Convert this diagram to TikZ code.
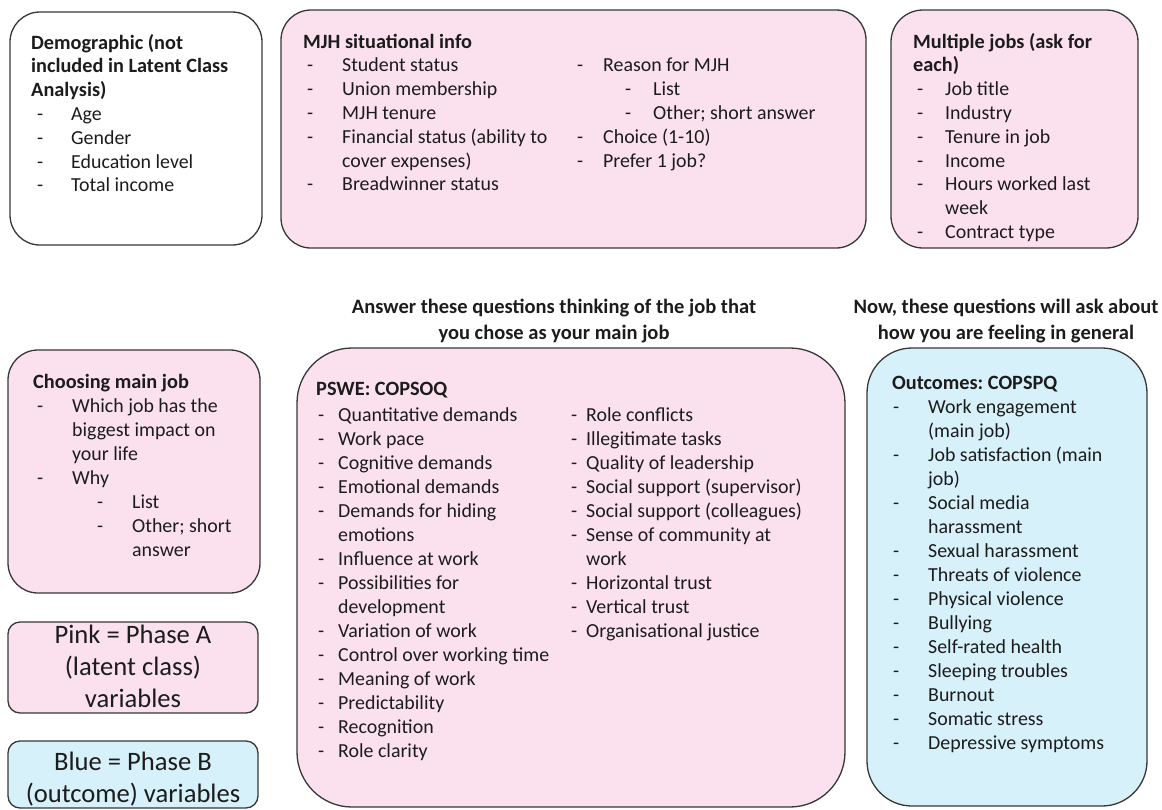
\documentclass[tikz,border=0pt]{standalone}
\usepackage{fontspec}
\setmainfont{Carlito}
\frenchspacing
\definecolor{pinkf}{RGB}{251,225,238}
\definecolor{bluef}{RGB}{215,241,251}
\definecolor{edgec}{RGB}{55,55,55}
\definecolor{ink}{RGB}{28,28,28}
\newcommand\ditem[3]{\hspace*{#1}\makebox[\dimexpr#2-#1\relax][l]{-}#3}
\newcommand\dcont[2]{\hspace*{#1}#2}
\newcommand\ttl[1]{{\fontsize{20.3}{23.8}\selectfont\bfseries #1}}
\tikzset{
  panel/.style={draw=edgec, line width=1.3pt, inner sep=0pt, outer sep=0pt},
  pinkpanel/.style={panel, fill=pinkf},
  bluepanel/.style={panel, fill=bluef},
  whitepanel/.style={panel, fill=white},
  txttop/.style={inner sep=0pt, anchor=base west, text=ink, font=\fontsize{19.9}{23.8}\selectfont},
  txtlow/.style={inner sep=0pt, anchor=base west, text=ink, font=\fontsize{19.9}{24}\selectfont},
  heading/.style={inner sep=0pt, anchor=base, text=ink, font=\bfseries\fontsize{20.5}{26}\selectfont},
  legend/.style={inner sep=0pt, anchor=base, text=ink, font=\fontsize{26.6}{32}\selectfont},
}
\begin{document}
\begin{tikzpicture}[x=1pt,y=-1pt]
\useasboundingbox (0,0) rectangle (1162,809);

% ---------- top row ----------
\node[whitepanel, rounded corners=30pt, minimum width=252pt, minimum height=233pt] (demo) at (136,128.5) {};
\node[txttop] (demotxt) at (31,49) {\begin{tabular}[t]{@{}l@{}}
\ttl{Demographic (not}\\
\ttl{included in Latent Class}\\
\ttl{Analysis)}\\
\ditem{6pt}{40pt}{Age}\\
\ditem{6pt}{40pt}{Gender}\\
\ditem{6pt}{40pt}{Education level}\\
\ditem{6pt}{40pt}{Total income}
\end{tabular}};

\node[pinkpanel, rounded corners=30pt, minimum width=585pt, minimum height=238pt] (mjh) at (573.5,129) {};
\node[txttop] (mjhA) at (303,48) {\begin{tabular}[t]{@{}l@{}}
\ttl{MJH situational info}\\
\ditem{4pt}{39pt}{Student status}\\
\ditem{4pt}{39pt}{Union membership}\\
\ditem{4pt}{39pt}{MJH tenure}\\
\ditem{4pt}{39pt}{Financial status (ability to}\\
\dcont{39pt}{cover expenses)}\\
\ditem{4pt}{39pt}{Breadwinner status}
\end{tabular}};
\node[txttop] (mjhB) at (577,71.8) {\begin{tabular}[t]{@{}l@{}}
\ditem{0pt}{26pt}{Reason for MJH}\\
\ditem{48pt}{76pt}{List}\\
\ditem{48pt}{76pt}{Other; short answer}\\
\ditem{0pt}{26pt}{Choice (1-10)}\\
\ditem{0pt}{26pt}{Prefer 1 job?}
\end{tabular}};

\node[pinkpanel, rounded corners=32pt, minimum width=247pt, minimum height=238pt] (multi) at (1014.5,129) {};
\node[txttop] (multitxt) at (913,48) {\begin{tabular}[t]{@{}l@{}}
\ttl{Multiple jobs (ask for}\\
\ttl{each)}\\
\ditem{4pt}{32pt}{Job title}\\
\ditem{4pt}{32pt}{Industry}\\
\ditem{4pt}{32pt}{Tenure in job}\\
\ditem{4pt}{32pt}{Income}\\
\ditem{4pt}{32pt}{Hours worked last}\\
\dcont{32pt}{week}\\
\ditem{4pt}{32pt}{Contract type}
\end{tabular}};

% ---------- headings ----------
\node[heading] (head1) at (554,313) {\begin{tabular}[t]{@{}c@{}}
Answer these questions thinking of the job that\\
you chose as your main job
\end{tabular}};
\node[heading] (head2) at (1006,313) {\begin{tabular}[t]{@{}c@{}}
Now, these questions will ask about\\
how you are feeling in general
\end{tabular}};

% ---------- left column ----------
\node[pinkpanel, rounded corners=30pt, minimum width=252pt, minimum height=243pt] (choose) at (134,471.5) {};
\node[txtlow] (choosetxt) at (33,388) {\begin{tabular}[t]{@{}l@{}}
\ttl{Choosing main job}\\
\ditem{4pt}{39pt}{Which job has the}\\
\dcont{39pt}{biggest impact on}\\
\dcont{39pt}{your life}\\
\ditem{4pt}{39pt}{Why}\\
\ditem{64pt}{99pt}{List}\\
\ditem{64pt}{99pt}{Other; short}\\
\dcont{99pt}{answer}
\end{tabular}};

\node[pinkpanel, rounded corners=12pt, minimum width=250pt, minimum height=91pt] (legA) at (133,667.5) {};
\node[legend] (legAtxt) at (133,643) {\begin{tabular}[t]{@{}c@{}}
Pink = Phase A\\
(latent class)\\
variables
\end{tabular}};

\node[bluepanel, rounded corners=12pt, minimum width=250pt, minimum height=67pt] (legB) at (133,774.5) {};
\node[legend] (legBtxt) at (133,770) {\begin{tabular}[t]{@{}c@{}}
Blue = Phase B\\
(outcome) variables
\end{tabular}};

% ---------- PSWE ----------
\node[pinkpanel, rounded corners=55pt, minimum width=548pt, minimum height=459pt] (pswe) at (571,577.5) {};
\node[txtlow] (psweT) at (316,395) {\ttl{PSWE: COPSOQ}};
\node[txtlow] (psweA) at (316,421) {\begin{tabular}[t]{@{}l@{}}
\ditem{2pt}{22pt}{Quantitative demands}\\
\ditem{2pt}{22pt}{Work pace}\\
\ditem{2pt}{22pt}{Cognitive demands}\\
\ditem{2pt}{22pt}{Emotional demands}\\
\ditem{2pt}{22pt}{Demands for hiding}\\
\dcont{22pt}{emotions}\\
\ditem{2pt}{22pt}{Influence at work}\\
\ditem{2pt}{22pt}{Possibilities for}\\
\dcont{22pt}{development}\\
\ditem{2pt}{22pt}{Variation of work}\\
\ditem{2pt}{22pt}{Control over working time}\\
\ditem{2pt}{22pt}{Meaning of work}\\
\ditem{2pt}{22pt}{Predictability}\\
\ditem{2pt}{22pt}{Recognition}\\
\ditem{2pt}{22pt}{Role clarity}
\end{tabular}};
\node[txtlow] (psweB) at (571,421) {\begin{tabular}[t]{@{}l@{}}
\ditem{0pt}{15pt}{Role conflicts}\\
\ditem{0pt}{15pt}{Illegitimate tasks}\\
\ditem{0pt}{15pt}{Quality of leadership}\\
\ditem{0pt}{15pt}{Social support (supervisor)}\\
\ditem{0pt}{15pt}{Social support (colleagues)}\\
\ditem{0pt}{15pt}{Sense of community at}\\
\dcont{15pt}{work}\\
\ditem{0pt}{15pt}{Horizontal trust}\\
\ditem{0pt}{15pt}{Vertical trust}\\
\ditem{0pt}{15pt}{Organisational justice}
\end{tabular}};

% ---------- Outcomes ----------
\node[bluepanel, rounded corners=45pt, minimum width=280pt, minimum height=458pt] (outc) at (1007,577) {};
\node[txtlow] (outctxt) at (892,389) {\begin{tabular}[t]{@{}l@{}}
\ttl{Outcomes: COPSPQ}\\
\ditem{1pt}{36pt}{Work engagement}\\
\dcont{36pt}{(main job)}\\
\ditem{1pt}{36pt}{Job satisfaction (main}\\
\dcont{36pt}{job)}\\
\ditem{1pt}{36pt}{Social media}\\
\dcont{36pt}{harassment}\\
\ditem{1pt}{36pt}{Sexual harassment}\\
\ditem{1pt}{36pt}{Threats of violence}\\
\ditem{1pt}{36pt}{Physical violence}\\
\ditem{1pt}{36pt}{Bullying}\\
\ditem{1pt}{36pt}{Self-rated health}\\
\ditem{1pt}{36pt}{Sleeping troubles}\\
\ditem{1pt}{36pt}{Burnout}\\
\ditem{1pt}{36pt}{Somatic stress}\\
\ditem{1pt}{36pt}{Depressive symptoms}
\end{tabular}};
\end{tikzpicture}
\end{document}
